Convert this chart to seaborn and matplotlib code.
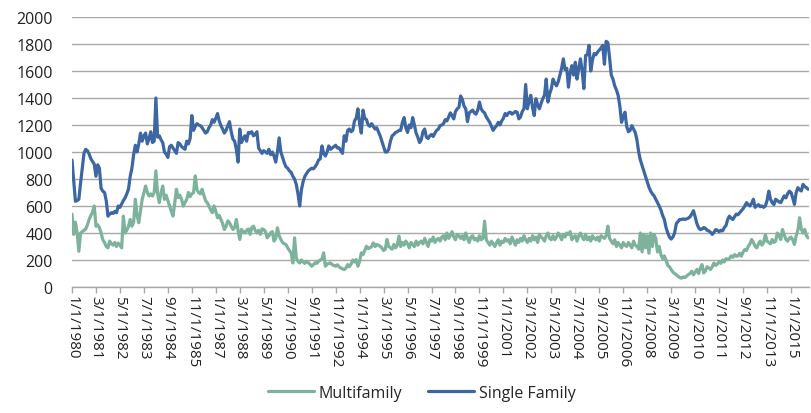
import matplotlib
matplotlib.use("Agg")
import matplotlib.pyplot as plt
import pandas as pd
import seaborn as sns

# Monthly housing starts (thousands), Jan 1980 - Nov 2015
single_family = [
    940, 790, 635, 640, 650, 770, 880, 990, 1020, 1010, 985, 950,          # 1980
    930, 910, 820, 905, 880, 730, 710, 700, 640, 525, 540, 550,            # 1981
    545, 560, 550, 600, 590, 615, 640, 660, 690, 725, 820, 880,            # 1982
    980, 1050, 1000, 1060, 1140, 1080, 1120, 1140, 1060, 1100, 1150, 1070, # 1983
    1080, 1400, 1110, 1120, 1090, 1070, 1000, 985, 960, 1040, 1050, 1030,  # 1984
    1010, 990, 1070, 1060, 1040, 1030, 1020, 1080, 1060, 1100, 1270, 1160, # 1985
    1190, 1210, 1200, 1195, 1180, 1160, 1140, 1150, 1180, 1200, 1240, 1220,# 1986
    1250, 1285, 1230, 1195, 1170, 1140, 1160, 1195, 1225, 1150, 1095, 1080,# 1987
    1020, 925, 1170, 1070, 1100, 1120, 1080, 1145, 1140, 1150, 1120, 1130, # 1988
    1150, 1030, 1010, 990, 1010, 1000, 990, 1020, 980, 1000, 970, 925,     # 1989
    1000, 1105, 1000, 960, 920, 890, 880, 860, 850, 820, 800, 760,         # 1990
    690, 600, 720, 780, 820, 840, 860, 870, 880, 875, 890, 910,            # 1991
    940, 950, 1045, 990, 970, 1000, 1045, 1020, 1030, 1040, 1050, 1030,    # 1992
    1030, 1010, 990, 1120, 1080, 1160, 1170, 1150, 1160, 1230, 1250, 1320, # 1993
    1210, 1140, 1310, 1250, 1240, 1200, 1190, 1210, 1190, 1170, 1180, 1150,# 1994
    1120, 1080, 1040, 1000, 1000, 1020, 1080, 1120, 1130, 1145, 1150, 1160,# 1995
    1160, 1220, 1255, 1180, 1145, 1200, 1180, 1255, 1200, 1140, 1110, 1070,# 1996
    1090, 1150, 1170, 1110, 1100, 1120, 1130, 1115, 1140, 1160, 1170, 1195,# 1997
    1200, 1210, 1240, 1230, 1260, 1290, 1270, 1245, 1300, 1320, 1330, 1415,# 1998
    1390, 1340, 1320, 1225, 1290, 1300, 1310, 1290, 1280, 1310, 1370, 1320,# 1999
    1300, 1290, 1260, 1240, 1220, 1190, 1160, 1180, 1195, 1220, 1200, 1230,# 2000
    1250, 1285, 1270, 1290, 1295, 1280, 1290, 1300, 1295, 1245, 1260, 1300,# 2001
    1320, 1500, 1320, 1380, 1420, 1330, 1270, 1395, 1350, 1320, 1360, 1395,# 2002
    1420, 1540, 1370, 1430, 1470, 1540, 1510, 1490, 1520, 1570, 1620, 1690,# 2003
    1610, 1620, 1480, 1590, 1640, 1570, 1665, 1540, 1620, 1690, 1600, 1470,# 2004
    1715, 1720, 1790, 1600, 1680, 1730, 1720, 1740, 1755, 1770, 1790, 1650,# 2005
    1820, 1810, 1700, 1570, 1540, 1490, 1460, 1420, 1340, 1220, 1260, 1295,# 2006
    1190, 1150, 1160, 1195, 1170, 1145, 1090, 1000, 940, 900, 860, 820,    # 2007
    780, 740, 710, 690, 675, 650, 625, 600, 570, 530, 500, 440,            # 2008
    400, 370, 355, 370, 400, 470, 485, 500, 500, 505, 500, 505,            # 2009
    510, 520, 540, 565, 520, 470, 440, 425, 430, 440, 435, 420,            # 2010
    415, 405, 390, 405, 425, 420, 410, 420, 415, 440, 455, 500,            # 2011
    525, 510, 500, 520, 540, 535, 550, 565, 580, 600, 625, 610,            # 2012
    600, 620, 650, 590, 600, 610, 595, 600, 590, 600, 640, 710,            # 2013
    650, 625, 610, 650, 640, 630, 625, 650, 675, 660, 690, 710,            # 2014
    700, 660, 612, 700, 736, 720, 711, 760, 745, 736, 724,                 # 2015
]

multifamily = [
    540, 390, 480, 400, 265, 400, 410, 420, 430, 460, 500, 530,            # 1980
    555, 600, 450, 460, 440, 400, 350, 330, 300, 290, 340, 320,            # 1981
    310, 330, 300, 325, 310, 290, 525, 400, 420, 450, 500, 450,            # 1982
    480, 650, 530, 476, 560, 649, 700, 748, 700, 674, 690, 674,            # 1983
    700, 860, 690, 625, 700, 748, 649, 680, 640, 600, 560, 525,            # 1984
    620, 724, 662, 680, 650, 600, 625, 649, 700, 670, 690, 700,            # 1985
    823, 720, 699, 690, 724, 680, 640, 625, 600, 570, 550, 600,            # 1986
    560, 513, 530, 500, 470, 426, 450, 490, 476, 450, 426, 440,            # 1987
    500, 420, 352, 426, 410, 400, 420, 430, 390, 440, 451, 420,            # 1988
    400, 420, 390, 430, 426, 410, 364, 380, 400, 410, 340, 360,            # 1989
    439, 380, 352, 330, 320, 315, 290, 270, 253, 178, 364, 216,            # 1990
    190, 178, 200, 185, 175, 190, 180, 170, 154, 165, 180, 175,            # 1991
    190, 200, 203, 253, 154, 170, 175, 178, 165, 160, 154, 165,            # 1992
    150, 141, 135, 129, 140, 166, 150, 170, 200, 185, 203, 154,            # 1993
    190, 253, 240, 270, 302, 285, 290, 300, 327, 300, 315, 310,            # 1994
    302, 290, 270, 280, 352, 300, 290, 280, 315, 290, 310, 377,            # 1995
    300, 330, 310, 340, 320, 290, 330, 315, 300, 340, 310, 330,            # 1996
    340, 320, 360, 330, 300, 350, 340, 370, 330, 350, 360, 340,            # 1997
    370, 380, 350, 400, 360, 380, 410, 370, 350, 390, 380, 360,            # 1998
    380, 350, 400, 360, 330, 370, 380, 350, 360, 340, 380, 350,            # 1999
    360, 488, 350, 330, 310, 340, 320, 300, 330, 350, 310, 340,            # 2000
    330, 360, 340, 350, 320, 370, 340, 310, 350, 330, 360, 340,            # 2001
    380, 350, 330, 360, 340, 380, 350, 370, 330, 390, 370, 360,            # 2002
    340, 380, 400, 360, 350, 380, 350, 370, 400, 380, 350, 390,            # 2003
    370, 400, 390, 410, 350, 370, 380, 340, 380, 400, 370, 350,            # 2004
    390, 350, 370, 340, 380, 360, 350, 370, 340, 380, 370, 360,            # 2005
    380, 451, 360, 340, 320, 350, 300, 330, 310, 290, 330, 310,            # 2006
    300, 330, 310, 290, 340, 310, 300, 280, 400, 260, 390, 290,            # 2007
    380, 250, 400, 300, 390, 360, 260, 300, 240, 210, 230, 200,            # 2008
    160, 150, 130, 110, 100, 90, 80, 70, 65, 75, 70, 80,                   # 2009
    92, 100, 117, 90, 110, 130, 100, 140, 166, 104, 120, 150,              # 2010
    140, 130, 150, 178, 160, 170, 190, 175, 200, 185, 210, 203,            # 2011
    210, 230, 220, 240, 228, 230, 250, 228, 260, 277, 270, 300,            # 2012
    320, 352, 330, 302, 290, 320, 340, 310, 330, 389, 340, 330,            # 2013
    320, 352, 330, 340, 400, 380, 352, 426, 390, 352, 340, 360,            # 2014
    370, 350, 315, 380, 420, 513, 430, 400, 426, 380, 364,                 # 2015
]

tick_labels = [
    "1/1/1980", "3/1/1981", "5/1/1982", "7/1/1983", "9/1/1984", "11/1/1985",
    "1/1/1987", "3/1/1988", "5/1/1989", "7/1/1990", "9/1/1991", "11/1/1992",
    "1/1/1994", "3/1/1995", "5/1/1996", "7/1/1997", "9/1/1998", "11/1/1999",
    "1/1/2001", "3/1/2002", "5/1/2003", "7/1/2004", "9/1/2005", "11/1/2006",
    "1/1/2008", "3/1/2009", "5/1/2010", "7/1/2011", "9/1/2012", "11/1/2013",
    "1/1/2015",
]
tick_step = 14  # months between labelled ticks

series_colors = {"Multifamily": "#7db39c", "Single Family": "#3c67a2"}

month_index = list(range(len(single_family)))
wide = pd.DataFrame({
    "month": month_index,
    "Multifamily": multifamily,
    "Single Family": single_family,
})
long = wide.melt(id_vars="month", var_name="series", value_name="starts")

sns.set_style("white")
plt.rcParams["font.family"] = ["Open Sans", "DejaVu Sans"]

fig = plt.figure(figsize=(8.11, 4.14), dpi=100)
ax = fig.add_axes([72 / 811, 1 - 288 / 414, (809 - 72) / 811, 270 / 414])

sns.lineplot(data=long, x="month", y="starts", hue="series",
             hue_order=["Multifamily", "Single Family"],
             palette=series_colors, linewidth=2.3, ax=ax)

ax.set_xlim(0, len(single_family) - 0.5)
ax.set_ylim(0, 2000)
ax.set_yticks(range(0, 2001, 200))
ax.yaxis.grid(True, color="#a8a8a8", linewidth=1.0)
ax.set_axisbelow(True)

ax.set_xticks([i * tick_step for i in range(len(tick_labels))])
ax.set_xticklabels(tick_labels, rotation=-90, ha="center", va="top")

for side in ("left", "right", "top"):
    ax.spines[side].set_visible(False)
ax.spines["bottom"].set_color("#a8a8a8")
ax.spines["bottom"].set_linewidth(1.0)

ax.tick_params(axis="x", direction="out", length=4, width=1, color="#a8a8a8",
               labelsize=11, labelcolor="#222222", pad=2, bottom=True)
ax.tick_params(axis="y", length=0, labelsize=11.5, labelcolor="#222222", pad=14)
ax.set_xlabel("")
ax.set_ylabel("")

handles, labels = ax.get_legend_handles_labels()
ax.get_legend().remove()
fig.legend(handles, labels, loc="lower center", bbox_to_anchor=(0.52, -0.005),
           ncol=2, frameon=False, fontsize=11.5, handlelength=2.9,
           columnspacing=1.6, handletextpad=0.3)

fig.savefig("out.png", dpi=100)
